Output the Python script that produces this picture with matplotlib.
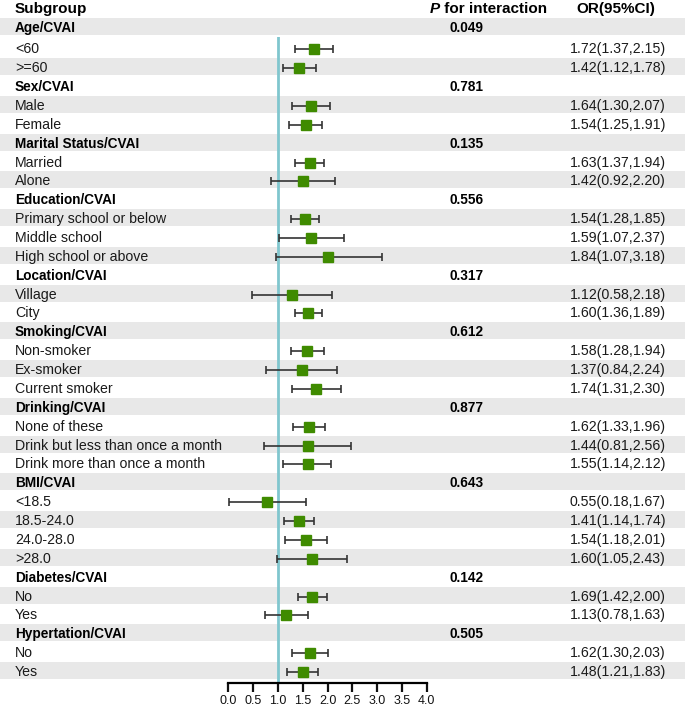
import matplotlib
matplotlib.use("Agg")
import matplotlib.pyplot as plt
import numpy as np

plt.rcParams['font.family'] = ['Liberation Sans', 'DejaVu Sans']

# subgroup data
group_names = ["Age/CVAI", "Sex/CVAI", "Marital Status/CVAI", "Education/CVAI",
               "Location/CVAI", "Smoking/CVAI", "Drinking/CVAI", "BMI/CVAI",
               "Diabetes/CVAI", "Hypertation/CVAI"]
p_values = ["0.049", "0.781", "0.135", "0.556", "0.317", "0.612", "0.877",
            "0.643", "0.142", "0.505"]
sub_labels = [["<60", ">=60"],
              ["Male", "Female"],
              ["Married", "Alone"],
              ["Primary school or below", "Middle school", "High school or above"],
              ["Village", "City"],
              ["Non-smoker", "Ex-smoker", "Current smoker"],
              ["None of these", "Drink but less than once a month",
               "Drink more than once a month"],
              ["<18.5", "18.5-24.0", "24.0-28.0", ">28.0"],
              ["No", "Yes"],
              ["No", "Yes"]]
or_text = ["1.72(1.37,2.15)", "1.42(1.12,1.78)",
           "1.64(1.30,2.07)", "1.54(1.25,1.91)",
           "1.63(1.37,1.94)", "1.42(0.92,2.20)",
           "1.54(1.28,1.85)", "1.59(1.07,2.37)", "1.84(1.07,3.18)",
           "1.12(0.58,2.18)", "1.60(1.36,1.89)",
           "1.58(1.28,1.94)", "1.37(0.84,2.24)", "1.74(1.31,2.30)",
           "1.62(1.33,1.96)", "1.44(0.81,2.56)", "1.55(1.14,2.12)",
           "0.55(0.18,1.67)", "1.41(1.14,1.74)", "1.54(1.18,2.01)", "1.60(1.05,2.43)",
           "1.69(1.42,2.00)", "1.13(0.78,1.63)",
           "1.62(1.30,2.03)", "1.48(1.21,1.83)"]
# plotted estimates as drawn in the figure
est = [1.73, 1.43, 1.66, 1.56, 1.64, 1.51, 1.55, 1.67, 2.02, 1.28, 1.61,
       1.59, 1.48, 1.77, 1.63, 1.60, 1.60, 0.79, 1.43, 1.57, 1.69, 1.69,
       1.17, 1.64, 1.50]
lo = [1.34, 1.10, 1.28, 1.22, 1.35, 0.86, 1.27, 1.02, 0.96, 0.48, 1.34,
      1.26, 0.77, 1.28, 1.31, 0.71, 1.10, 0.01, 1.12, 1.15, 0.99, 1.41,
      0.74, 1.28, 1.18]
hi = [2.12, 1.76, 2.05, 1.89, 1.92, 2.15, 1.83, 2.33, 3.09, 2.10, 1.88,
      1.92, 2.19, 2.27, 1.94, 2.48, 2.08, 1.57, 1.73, 1.99, 2.39, 1.99,
      1.60, 2.01, 1.81]
xticks = [0.0, 0.5, 1.0, 1.5, 2.0, 2.5, 3.0, 3.5, 4.0]

# build row list
rows = []  # (label, is_group, p, or)
k = 0
for g, p, subs in zip(group_names, p_values, sub_labels):
    rows.append((g, True, p, ""))
    for s in subs:
        rows.append((s, False, "", or_text[k]))
        k += 1
ypos = np.arange(1, len(rows) + 1, dtype=float)
ypos[0] -= 0.13

W, H = 685, 708
pitch = 18.87
def px2row(p):
    return 2 + (p - 49.3) / pitch

fig = plt.figure(figsize=(W / 100, H / 100), dpi=100)
bg = fig.add_axes([0, 0, 1, 1])
bg.set_xlim(0, W)
bg.set_ylim(px2row(H), px2row(0))
bg.axis('off')

shade = '#e8e8e8'
for i, y in enumerate(ypos):
    if i % 2 == 0:
        bg.axhspan(y - 0.53, y + 0.37, color=shade, lw=0, zorder=0)

x_lab, x_p, x_or = 15, 450, 570
y_head = px2row(8.5)
hsize = 11
bg.text(x_lab, y_head, "Subgroup", fontsize=hsize, fontweight='bold', va='center')
ptxt = bg.text(430, y_head, "P", fontsize=hsize, fontweight='bold', style='italic',
               va='center')
bg.annotate(" for interaction", xy=(1, 0), xycoords=ptxt, va='bottom',
            fontsize=hsize, fontweight='bold')
bg.text(576, y_head, "OR(95%CI)", fontsize=hsize, fontweight='bold', va='center')

for (lab, is_group, p, o), y in zip(rows, ypos):
    if is_group:
        bg.text(x_lab, y, lab, fontsize=9.8, fontweight='bold', va='center')
        bg.text(x_p, y, p, fontsize=9.8, fontweight='bold', va='center')
    else:
        bg.text(x_lab, y, lab, fontsize=10.2, va='center', color='#1a1a1a')
        bg.text(x_or, y, o, fontsize=10.2, va='center', color='#1a1a1a')

# forest panel
top_px, bot_px, left_px, right_px = 37, 683, 228.3, 426.7
ax = fig.add_axes([left_px / W, 1 - bot_px / H, (right_px - left_px) / W,
                   (bot_px - top_px) / H])
ax.set_facecolor('none')
ax.set_xlim(0, 4)
ax.set_ylim(px2row(bot_px), px2row(top_px))
for s in ['left', 'top', 'right']:
    ax.spines[s].set_visible(False)
ax.spines['bottom'].set_linewidth(1.6)
ax.set_yticks([])
ax.set_xticks(xticks)
ax.set_xticklabels([f"{t:.1f}" for t in xticks])
ax.tick_params(axis='x', direction='out', length=6.5, width=1.6, labelsize=9,
               pad=2, colors='#111111')

ax.axvline(1.0, color='#80c6ce', lw=2, zorder=1)

sub_y = np.array([y for (lab, g, p, o), y in zip(rows, ypos) if not g])
est = np.array(est); lo = np.array(lo); hi = np.array(hi)
ax.errorbar(est, sub_y, xerr=[est - lo, hi - est], fmt='s', color='#3f8b00',
            markersize=6.5, ecolor='#333333', elinewidth=1.2, capsize=3,
            capthick=1.2, zorder=3, clip_on=False)

fig.savefig("out.png", dpi=100)
